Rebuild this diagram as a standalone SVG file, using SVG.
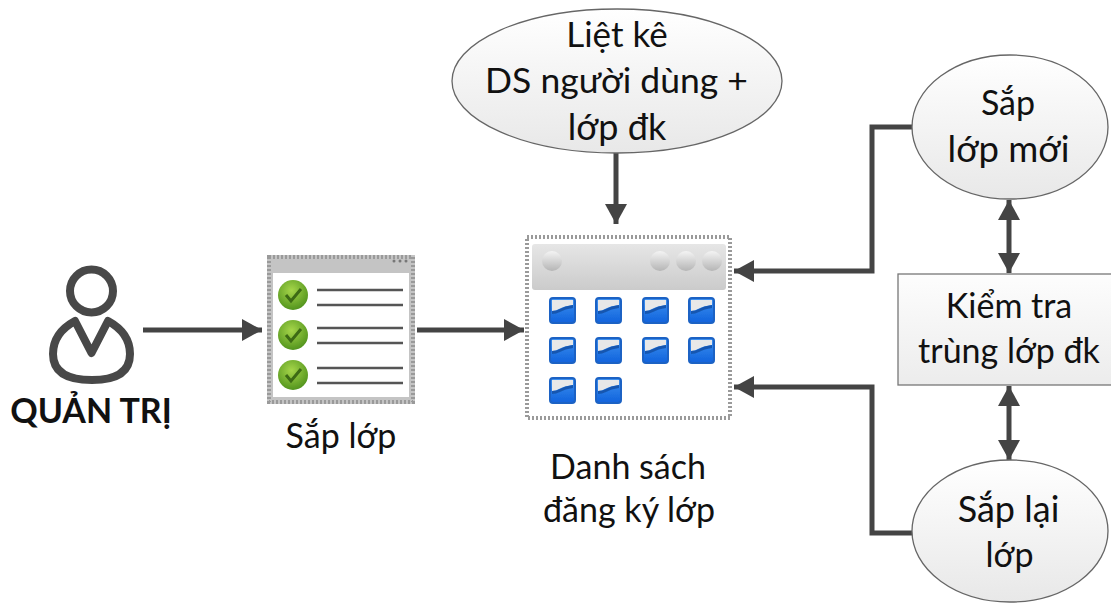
<svg xmlns="http://www.w3.org/2000/svg" xmlns:xlink="http://www.w3.org/1999/xlink" width="1111" height="603" viewBox="0 0 1111 603">
<style>
text{font-family:"Lato","Open Sans","Liberation Sans",sans-serif;font-size:34px;fill:#111;text-anchor:middle}
.conn{fill:none;stroke:#444;stroke-width:5}
.sh{fill:url(#g);stroke:#666;stroke-width:1.3}
.ln{stroke:#555;stroke-width:2.5}
.ball{fill:url(#ball)}
.chk{fill:none;stroke:#3d6b12;stroke-width:3}
.frame{fill:none;stroke:#9a9a9a;stroke-width:4;stroke-dasharray:2 2}
</style>
<defs>
<filter id="soft" x="-5%" y="-5%" width="110%" height="110%"><feGaussianBlur stdDeviation="0.7"/></filter>
<linearGradient id="g" x1="0" y1="0" x2="0" y2="1"><stop offset="0" stop-color="#ffffff"/><stop offset="1" stop-color="#e8e8e8"/></linearGradient>
<linearGradient id="r" x1="0" y1="0" x2="0" y2="1"><stop offset="0" stop-color="#fdfdfd"/><stop offset="1" stop-color="#ececec"/></linearGradient>
<linearGradient id="hd" x1="0" y1="0" x2="0" y2="1"><stop offset="0" stop-color="#e6e6e6"/><stop offset="1" stop-color="#cbcbcb"/></linearGradient>
<linearGradient id="ball" x1="0" y1="0" x2="0" y2="1"><stop offset="0" stop-color="#f4f4f4"/><stop offset="1" stop-color="#b5b5b5"/></linearGradient>
<radialGradient id="gr" cx=".45" cy=".35" r=".7"><stop offset="0" stop-color="#a6d64a"/><stop offset="1" stop-color="#4c8f1a"/></radialGradient>
<linearGradient id="bl" x1="0" y1="0" x2="0" y2="1"><stop offset="0" stop-color="#3f92f0"/><stop offset="1" stop-color="#0f62dc"/></linearGradient>
<marker id="a" markerUnits="userSpaceOnUse" markerWidth="22" markerHeight="22" refX="20" refY="11" orient="auto-start-reverse"><path d="M0 0L20 11L0 22z" fill="#444"/></marker>
<g id="tile"><rect x="1" y="1" width="25" height="25" rx="3" fill="url(#bl)" stroke="#1a62c4" stroke-width="2"/><path d="M3 3H24V8Q15 9 10 12Q7 14 3 14z" fill="#e8e8e8"/><path d="M3 14Q8 14 11 12Q16 9 24 8V11Q16 12 11 15Q7 17 3 17z" fill="#1557b0"/></g>
<g id="check"><circle r="15" fill="url(#gr)"/><path class="chk" d="M-7 0L-2 6L8-6"/></g>
</defs>
<g id="connectors">
<path class="conn" d="M143 330H262" marker-end="url(#a)"/>
<path class="conn" d="M417 330H524" marker-end="url(#a)"/>
<path class="conn" d="M616 153V224" marker-end="url(#a)"/>
<path class="conn" d="M913 127H872V271H734" marker-end="url(#a)"/>
<path class="conn" d="M913 533H872V387H734" marker-end="url(#a)"/>
<path class="conn" d="M1009 200V273" marker-start="url(#a)" marker-end="url(#a)"/>
<path class="conn" d="M1009 386V460" marker-start="url(#a)" marker-end="url(#a)"/>
</g>
<g id="admin">
<circle cx="91.500" cy="291" r="21.500" fill="none" stroke="#484848" stroke-width="8"/>
<path d="M75 321L91.500 353L108 321Q130 333 130 354Q130 380 92 380Q53 380 53 354Q53 333 75 321z" fill="none" stroke="#484848" stroke-width="8" stroke-linejoin="round"/>
<text x="91" y="423" style="font-weight:700">QUẢN TRỊ</text>
</g>
<g id="sap-lop">
<g filter="url(#soft)">
<rect x="267" y="255" width="148" height="149" fill="#c4c4c4"/>
<rect x="269" y="257" width="144" height="145" class="frame"/>
<rect x="273" y="273" width="136" height="124" fill="#fff"/>
<circle cx="394" cy="261" r="1.500" fill="#777"/><circle cx="400" cy="261" r="1.500" fill="#777"/><circle cx="406" cy="261" r="1.500" fill="#777"/>
<use xlink:href="#check" x="293" y="295"/><use xlink:href="#check" x="293" y="335"/><use xlink:href="#check" x="293" y="375"/>
<path class="ln" d="M317 290H403M317 305H403M317 328H403M317 343H403M317 368H403M317 383H403"/>
</g>
<text x="341" y="448">Sắp lớp</text>
</g>
<g id="danh-sach">
<g filter="url(#soft)">
<rect x="526" y="236" width="205" height="183" fill="#fff"/>
<rect x="527" y="237" width="203" height="181" class="frame"/>
<rect x="532" y="244" width="194" height="46" rx="3" fill="url(#hd)"/>
<circle class="ball" cx="552" cy="261" r="10"/><circle class="ball" cx="660" cy="261" r="10"/><circle class="ball" cx="686" cy="261" r="10"/><circle class="ball" cx="712" cy="261" r="10"/>
<use xlink:href="#tile" x="549" y="297"/><use xlink:href="#tile" x="595" y="297"/><use xlink:href="#tile" x="642" y="297"/><use xlink:href="#tile" x="688" y="297"/>
<use xlink:href="#tile" x="549" y="337"/><use xlink:href="#tile" x="595" y="337"/><use xlink:href="#tile" x="642" y="337"/><use xlink:href="#tile" x="688" y="337"/>
<use xlink:href="#tile" x="549" y="377"/><use xlink:href="#tile" x="595" y="377"/>
</g>
<text x="628" y="479">Danh sách</text>
<text x="629" y="522">đăng ký lớp</text>
</g>
<g id="liet-ke">
<ellipse class="sh" cx="617" cy="81" rx="165" ry="72"/>
<text x="617" y="47" style="font-size:35px">Liệt kê</text>
<text x="616.500" y="93" style="font-size:35.500px">DS người dùng +</text>
<text x="617" y="140" style="font-size:36px">lớp đk</text>
</g>
<g id="sap-lop-moi">
<ellipse class="sh" cx="1010" cy="127" rx="98" ry="72"/>
<text x="1008" y="115">Sắp</text>
<text x="1008.500" y="162" style="font-size:36.500px">lớp mới</text>
</g>
<g id="kiem-tra">
<rect x="898" y="274" width="220" height="111" fill="url(#r)" stroke="#777" stroke-width="1.300"/>
<text x="1009" y="318">Kiểm tra</text>
<text x="1009" y="363">trùng lớp đk</text>
</g>
<g id="sap-lai">
<ellipse class="sh" cx="1010" cy="531" rx="98" ry="71"/>
<text x="1008.500" y="522" style="font-size:36px">Sắp lại</text>
<text x="1009.500" y="567">lớp</text>
</g>
</svg>
